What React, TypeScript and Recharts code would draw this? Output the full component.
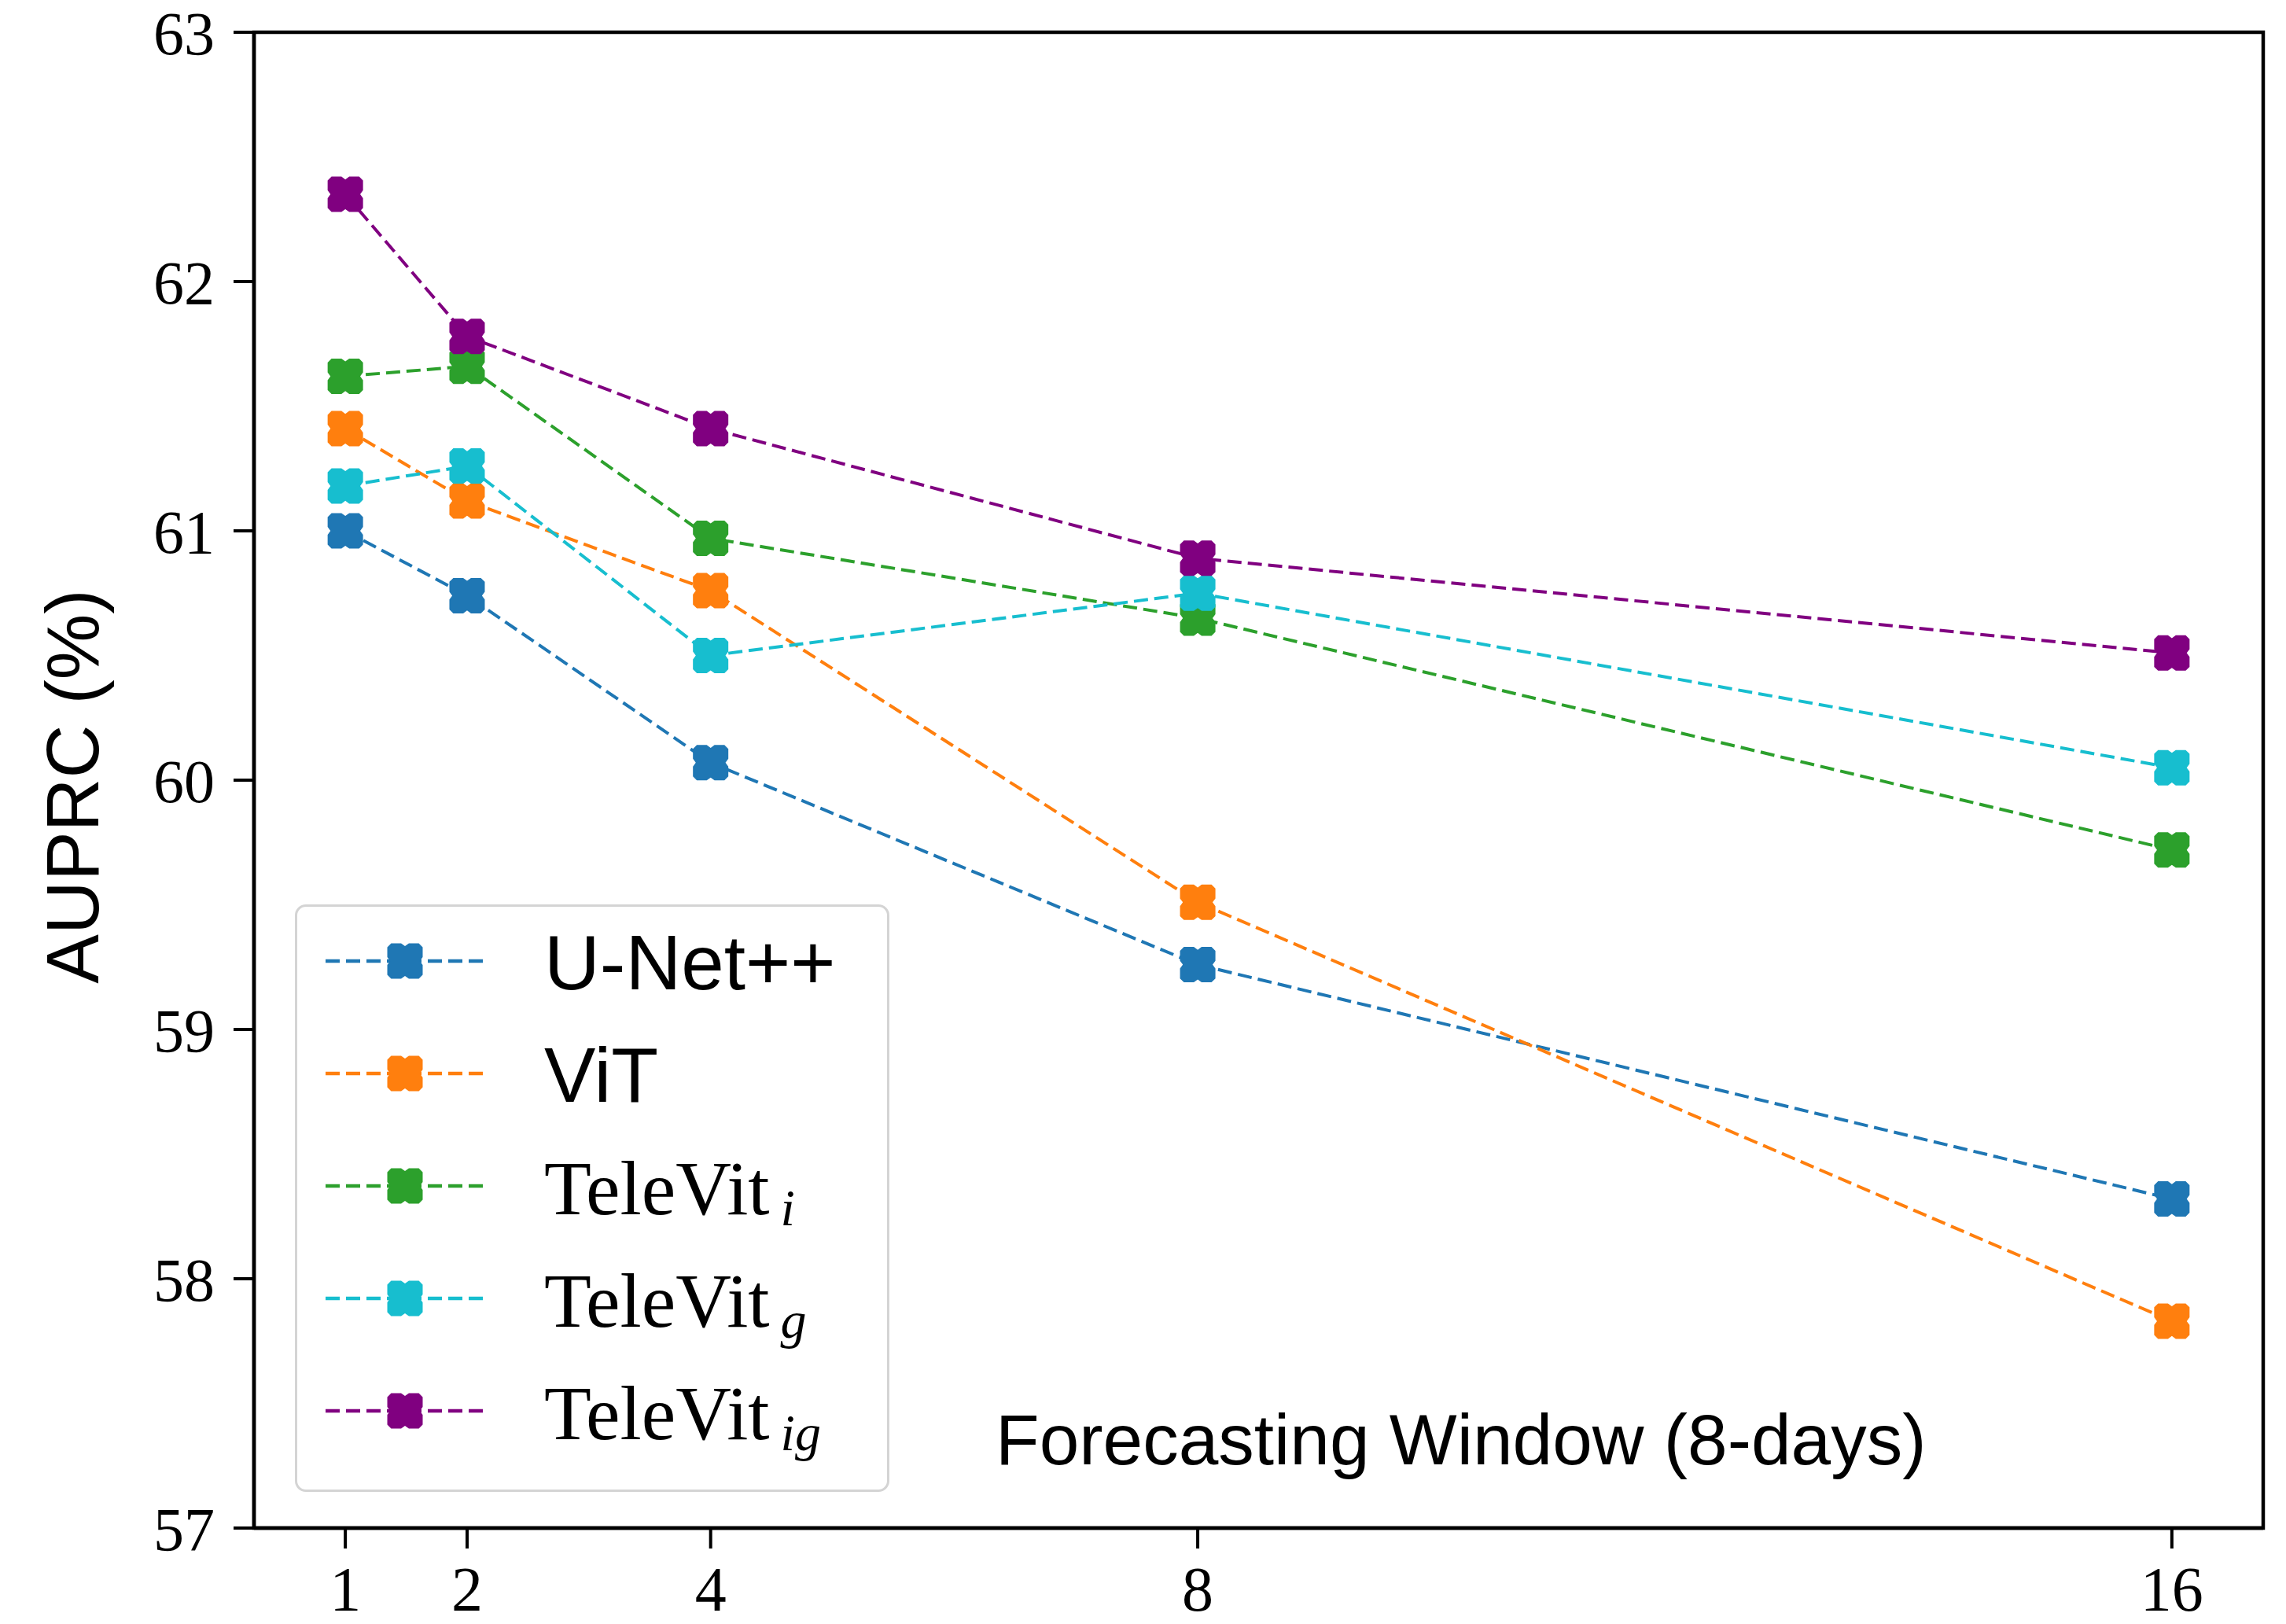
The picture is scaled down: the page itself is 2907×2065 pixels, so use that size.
import React from 'react';
import { LineChart, Line, XAxis, YAxis, ReferenceArea, Legend } from 'recharts';

// ---- data ----
const xValues = [1, 2, 4, 8, 16];
const unetppValues = [61.0, 60.74, 60.07, 59.26, 58.32];
const vitValues = [61.41, 61.12, 60.76, 59.51, 57.83];
const televitIValues = [61.62, 61.66, 60.97, 60.65, 59.72];
const televitGValues = [61.18, 61.26, 60.5, 60.75, 60.05];
const televitIGValues = [62.35, 61.78, 61.41, 60.89, 60.51];

const xTicks = [1, 2, 4, 8, 16];
const yTicks = [57, 58, 59, 60, 61, 62, 63];

const seriesKeys = ['unet', 'vit', 'tvi', 'tvg', 'tvig'];
const seriesBase = ['U-Net++', 'ViT', 'TeleVit', 'TeleVit', 'TeleVit'];
const seriesSub = ['', '', 'i', 'g', 'ig'];
const seriesSerif = [false, false, true, true, true];
const seriesColors = ['#1f77b4', '#ff7f0e', '#2ca02c', '#17becf', '#800080'];
const seriesValues = [unetppValues, vitValues, televitIValues, televitGValues, televitIGValues];

const xLabel = 'Forecasting Window (8-days)';
const yLabel = 'AUPRC (%)';

const data = xValues.map((x, i) => {
  const row: any = { x };
  seriesKeys.forEach((k, j) => {
    row[k] = seriesValues[j][i];
  });
  return row;
});

const SERIF = '"Liberation Serif", "DejaVu Serif", serif';
const SANS = '"Liberation Sans", "DejaVu Sans", sans-serif';

const markerPts: [number, number][] = [
  [-0.78, -1], [-0.22, -1], [0, -0.84], [0.22, -1], [0.78, -1], [1, -0.78],
  [1, -0.22], [0.84, 0], [1, 0.22], [1, 0.78], [0.78, 1], [0.22, 1],
  [0, 0.84], [-0.22, 1], [-0.78, 1], [-1, 0.78], [-1, 0.22], [-0.84, 0],
  [-1, -0.22], [-1, -0.78],
];

function markerPath(cx: number, cy: number, r: number) {
  return (
    markerPts
      .map((p, i) => `${i === 0 ? 'M' : 'L'}${(cx + p[0] * r).toFixed(2)},${(cy + p[1] * r).toFixed(2)}`)
      .join(' ') + ' Z'
  );
}

const makeDot = (color: string) => (props: any) => {
  const { cx, cy, index } = props;
  if (cx == null || cy == null) return <g key={`d-${index}`} />;
  return <path key={`d-${index}`} d={markerPath(cx, cy, 22.5)} fill={color} stroke="none" />;
};

const renderLegend = () => (
  <div
    style={{
      width: 756,
      height: 747,
      boxSizing: 'border-box',
      border: '3px solid #d4d4d4',
      borderRadius: 14,
      background: '#fff',
    }}
  >
    <svg width={750} height={741} style={{ display: 'block' }}>
      {seriesKeys.map((k, i) => {
        const cy = 69 + 143 * i;
        return (
          <g key={k}>
            <line
              x1={36}
              x2={242}
              y1={cy}
              y2={cy}
              stroke={seriesColors[i]}
              strokeWidth={4.5}
              strokeDasharray="18 8"
            />
            <path d={markerPath(137, cy, 22.5)} fill={seriesColors[i]} />
            <text
              x={314}
              y={cy + 36}
              fontFamily={seriesSerif[i] ? SERIF : SANS}
              fontSize={98}
              fill="#000"
            >
              {seriesBase[i]}
              {seriesSub[i] ? (
                <tspan fontStyle="italic" fontSize={66} dx={14} dy={14}>
                  {seriesSub[i]}
                </tspan>
              ) : null}
            </text>
          </g>
        );
      })}
    </svg>
  </div>
);

const renderXLabel = (props: any) => {
  const vb = props.viewBox || {};
  const x = (vb.x || 0) + (vb.width || 0) * 0.6007;
  const y = (vb.y || 0) - 81;
  return (
    <text x={x} y={y} textAnchor="middle" fontFamily={SANS} fontSize={91} fill="#000">
      {xLabel}
    </text>
  );
};

const renderYLabel = (props: any) => {
  const vb = props.viewBox || {};
  const cx = (vb.x || 0) + 92;
  const cy = (vb.y || 0) + (vb.height || 0) / 2 + 8;
  return (
    <text
      x={cx}
      y={cy}
      transform={`rotate(-90, ${cx}, ${cy})`}
      textAnchor="middle"
      dominantBaseline="central"
      fontFamily={SANS}
      fontSize={94}
      fill="#000"
    >
      {yLabel}
    </text>
  );
};

export default function App() {
  return (
    <div style={{ position: 'absolute', left: 0, top: 0, width: 2907, height: 2065, background: '#fff' }}>
      <LineChart
        width={2907}
        height={2065}
        data={data}
        margin={{ top: 41, right: 29, bottom: 0, left: 0 }}
      >
        <XAxis
          dataKey="x"
          type="number"
          domain={[0.25, 16.75]}
          allowDataOverflow
          ticks={xTicks}
          interval={0}
          height={122}
          tickSize={26}
          tickMargin={22}
          axisLine={{ stroke: '#000', strokeWidth: 4.5 }}
          tickLine={{ stroke: '#000', strokeWidth: 4 }}
          tick={{ fontFamily: SERIF, fontSize: 80, fill: '#000' }}
          label={{ content: renderXLabel }}
        />
        <YAxis
          type="number"
          domain={[57, 63]}
          allowDataOverflow
          ticks={yTicks}
          interval={0}
          width={323}
          tickSize={26}
          tickMargin={24}
          axisLine={{ stroke: '#000', strokeWidth: 4.5 }}
          tickLine={{ stroke: '#000', strokeWidth: 4 }}
          tick={{ fontFamily: SERIF, fontSize: 78, fill: '#000' }}
          label={{ content: renderYLabel }}
        />
        <ReferenceArea
          x1={0.25}
          x2={16.75}
          y1={57}
          y2={63}
          fill="none"
          fillOpacity={0}
          stroke="#000"
          strokeWidth={4.5}
          ifOverflow="visible"
        />
        {seriesKeys.map((k, i) => (
          <Line
            key={k}
            dataKey={k}
            type="linear"
            stroke={seriesColors[i]}
            strokeWidth={4}
            strokeDasharray="18 8"
            dot={makeDot(seriesColors[i])}
            activeDot={false}
            isAnimationActive={false}
          />
        ))}
        <Legend
          layout="vertical"
          align="center"
          verticalAlign="middle"
          content={renderLegend}
          wrapperStyle={{ left: 375, top: 1150, width: 756, height: 747 }}
        />
      </LineChart>
    </div>
  );
}
